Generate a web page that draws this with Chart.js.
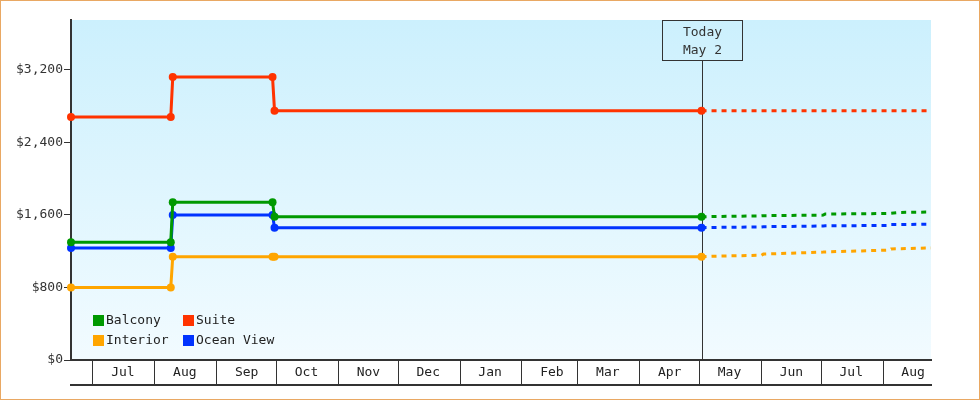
<!DOCTYPE html>
<html>
<head>
<meta charset="utf-8">
<script src="https://cdn.jsdelivr.net/npm/chart.js@4/dist/chart.umd.min.js"></script>
<style>
  body{margin:0;background:#fff;}
  #wrap{position:relative;width:978px;height:398px;border:1px solid #e9a863;background:#fff;}
</style>
</head>
<body>
<div id="wrap"><canvas id="myChart"></canvas></div>
<script>
'use strict';
var startDate='2018-06-20';
var endDate='2019-08-25';
var todayDate='2019-05-02';
var todayText=['Today','May 2'];

var monthStarts=['2018-07-01','2018-08-01','2018-09-01','2018-10-01','2018-11-01','2018-12-01','2019-01-01',
  '2019-02-01','2019-03-01','2019-04-01','2019-05-01','2019-06-01','2019-07-01','2019-08-01'];
var monthLabels=['Jul','Aug','Sep','Oct','Nov','Dec','Jan','Feb','Mar','Apr','May','Jun','Jul','Aug'];
var yTicks=[0,800,1600,2400,3200];

// prices up to today
var pastDates=['2018-06-20','2018-08-09','2018-08-10','2018-09-29','2018-09-30','2019-05-02'];
var balcony=[1300,1300,1740,1740,1580,1580];
var suite=[2680,2680,3120,3120,2750,2750];
var interior=[800,800,1140,1140,1140,1140];
var oceanView=[1235,1235,1600,1600,1460,1460];

// forecast after today
var futureDates=['2019-05-02','2019-05-08','2019-06-01','2019-06-02','2019-07-02','2019-07-03','2019-08-04','2019-08-05','2019-08-10','2019-08-25'];
var balconyFuture=[1580,1582,1590,1592,1598,1610,1616,1618,1628,1632];
var suiteFuture=[2750,2750,2750,2750,2750,2750,2750,2750,2750,2750];
var interiorFuture=[1140,1145,1155,1168,1190,1192,1212,1225,1227,1236];
var oceanViewFuture=[1460,1462,1468,1470,1478,1480,1484,1494,1495,1497];

var names=['Balcony','Suite','Interior','Ocean View'];
var colors=['#009900','#ff3300','#ffa500','#0033ff'];

var monoFont='"DejaVu Sans Mono", "Liberation Mono", monospace';

function day(s){
  return (Date.parse(s)-Date.parse(startDate))/864e5;
}
function points(dates,values){
  return dates.map(function(d,i){ return {x:day(d),y:values[i]}; });
}
function solidLine(i,values){
  return {label:names[i],data:points(pastDates,values),borderColor:colors[i],backgroundColor:colors[i],
    borderWidth:3,pointRadius:4,pointHoverRadius:4,pointBorderWidth:0,clip:false};
}
function dashedLine(i,values){
  return {label:names[i]+' forecast',forecast:true,data:points(futureDates,values),borderColor:colors[i],
    borderWidth:3,borderDash:[5,5],pointRadius:0,clip:false};
}

var bgPlugin={
  id:'bg',
  beforeDraw:function(chart){
    var a=chart.chartArea, ctx=chart.ctx;
    var g=ctx.createLinearGradient(0,a.top,0,a.bottom);
    g.addColorStop(0,'#ccf0fd');
    g.addColorStop(1,'#f2fbff');
    ctx.save();
    ctx.fillStyle=g;
    ctx.fillRect(a.left,a.top,a.right-a.left,a.bottom-a.top);
    ctx.restore();
  }
};

var todayPlugin={
  id:'today',
  beforeDatasetsDraw:function(chart){
    var a=chart.chartArea, ctx=chart.ctx;
    var x=Math.round(chart.scales.x.getPixelForValue(day(todayDate)))+0.5;
    ctx.save();
    ctx.strokeStyle='#333';
    ctx.lineWidth=1;
    ctx.beginPath();
    ctx.moveTo(x,a.top+40);
    ctx.lineTo(x,a.bottom);
    ctx.stroke();
    ctx.strokeRect(x-40,a.top+0.5,80,40);
    ctx.fillStyle='#333';
    ctx.font='13px '+monoFont;
    ctx.textAlign='center';
    ctx.textBaseline='middle';
    ctx.fillText(todayText[0],x,a.top+13);
    ctx.fillText(todayText[1],x,a.top+31);
    ctx.restore();
  }
};

var legendPlugin={
  id:'boxLegend',
  afterDatasetsDraw:function(chart){
    var a=chart.chartArea, ctx=chart.ctx;
    var items=chart.data.datasets.filter(function(d){ return !d.forecast; });
    ctx.save();
    ctx.font='13px '+monoFont;
    ctx.textBaseline='middle';
    ctx.textAlign='left';
    items.forEach(function(d,i){
      var x=a.left+22+(i%2)*90;
      var y=a.bottom-40+Math.floor(i/2)*20;
      ctx.fillStyle=d.borderColor;
      ctx.fillRect(x,y-5,11,11);
      ctx.fillStyle='#222';
      ctx.fillText(d.label,x+13,y+1);
    });
    ctx.restore();
  }
};

var ctx=document.getElementById('myChart').getContext('2d');
var chart=new Chart(ctx,{
  type:'line',
  data:{
    datasets:[
      solidLine(0,balcony),
      solidLine(1,suite),
      solidLine(2,interior),
      solidLine(3,oceanView),
      dashedLine(0,balconyFuture),
      dashedLine(1,suiteFuture),
      dashedLine(2,interiorFuture),
      dashedLine(3,oceanViewFuture)
    ]
  },
  options:{
    responsive:true,
    maintainAspectRatio:false,
    animation:false,
    events:[],
    layout:{padding:{top:19,right:48,bottom:14,left:0}},
    elements:{line:{tension:0,borderCapStyle:'butt'}},
    plugins:{legend:{display:false},tooltip:{enabled:false}},
    scales:{
      x:{
        type:'linear',
        position:'bottom',
        min:0,
        max:day(endDate),
        afterBuildTicks:function(s){
          s.ticks=monthStarts.map(function(d){ return {value:day(d)}; });
        },
        ticks:{
          autoSkip:false,maxRotation:0,labelOffset:30,padding:-12,crossAlign:'far',color:'#222',
          font:{family:monoFont,size:13,lineHeight:'24px'},
          callback:function(v,i){ return monthLabels[i]; }
        },
        grid:{drawOnChartArea:false,tickLength:25,color:'#333',lineWidth:1},
        border:{color:'#333',width:2}
      },
      x2:{
        type:'linear',
        position:'bottom',
        weight:1,
        min:0,
        max:day(endDate),
        ticks:{display:false},
        grid:{display:false,drawTicks:false},
        border:{display:true,color:'#333',width:2}
      },
      y:{
        min:0,
        max:3750,
        afterBuildTicks:function(s){
          s.ticks=yTicks.map(function(v){ return {value:v}; });
        },
        afterFit:function(s){ s.width=70; },
        ticks:{
          padding:1,color:'#333',
          font:{family:monoFont,size:13},
          callback:function(v){ return '$'+v.toLocaleString('en-US'); }
        },
        grid:{drawOnChartArea:false,tickLength:7,color:'#333'},
        border:{color:'#333',width:2}
      }
    }
  },
  plugins:[bgPlugin,todayPlugin,legendPlugin]
});
</script>
</body>
</html>
